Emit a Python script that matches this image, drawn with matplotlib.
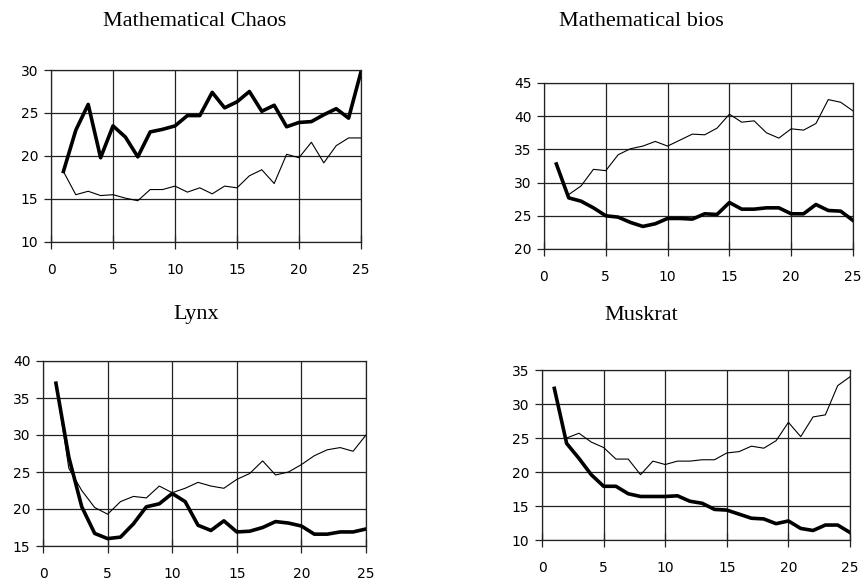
import matplotlib
matplotlib.use("Agg")
import matplotlib.pyplot as plt

x = list(range(1, 26))

# Mathematical Chaos
chaos_thick = [18.2, 23.0, 26.0, 19.8, 23.5, 22.2, 19.9, 22.8, 23.1, 23.5, 24.7, 24.7, 27.4,
               25.6, 26.3, 27.5, 25.2, 25.9, 23.4, 23.9, 24.0, 24.8, 25.5, 24.4, 29.8]
chaos_thin = [18.2, 15.5, 15.9, 15.4, 15.5, 15.1, 14.8, 16.1, 16.1, 16.5, 15.8, 16.3, 15.6,
              16.5, 16.3, 17.7, 18.4, 16.8, 20.2, 19.8, 21.6, 19.2, 21.2, 22.1, 22.1]

# Mathematical bios (thin series starts at x=2)
bios_thick = [32.8, 27.7, 27.2, 26.2, 25.0, 24.8, 24.0, 23.4, 23.8, 24.6, 24.6, 24.5, 25.3,
              25.2, 27.0, 26.0, 26.0, 26.2, 26.2, 25.3, 25.3, 26.7, 25.8, 25.7, 24.3]
bios_thin = [28.2, 29.5, 32.0, 31.8, 34.2, 35.1, 35.5, 36.2, 35.5, 36.4, 37.3, 37.2,
             38.2, 40.3, 39.1, 39.3, 37.5, 36.7, 38.1, 37.9, 38.9, 42.5, 42.1, 40.8]

# Lynx
lynx_thick = [37.0, 27.0, 20.3, 16.7, 16.0, 16.2, 18.0, 20.3, 20.7, 22.1, 21.0, 17.8, 17.1,
              18.4, 16.9, 17.0, 17.5, 18.3, 18.1, 17.7, 16.6, 16.6, 16.9, 16.9, 17.3]
lynx_thin = [37.0, 25.5, 22.5, 20.2, 19.3, 21.0, 21.7, 21.5, 23.1, 22.2, 22.8, 23.6, 23.1,
             22.8, 24.0, 24.8, 26.5, 24.6, 25.0, 26.0, 27.2, 28.0, 28.3, 27.8, 30.0]

# Muskrat (thin series starts at x=2)
musk_thick = [32.3, 24.2, 22.0, 19.6, 17.9, 17.9, 16.8, 16.4, 16.4, 16.4, 16.5, 15.7, 15.4,
              14.5, 14.4, 13.8, 13.2, 13.1, 12.4, 12.8, 11.7, 11.4, 12.2, 12.2, 11.1]
musk_thin = [25.0, 25.7, 24.4, 23.6, 21.9, 21.9, 19.6, 21.6, 21.1, 21.6, 21.6, 21.8,
             21.8, 22.8, 23.0, 23.8, 23.5, 24.6, 27.3, 25.2, 28.1, 28.4, 32.7, 34.0]

W, H = 863, 586
fig = plt.figure(figsize=(W / 100, H / 100), dpi=100)

tick_font = ['Liberation Sans Narrow', 'DejaVu Sans']


def make_panel(rect_px, thick, thin, thin_x, ylim, title, title_xy):
    l, t, r, b = rect_px
    ax = fig.add_axes([l / W, 1 - b / H, (r - l) / W, (b - t) / H])
    ax.plot(thin_x, thin, color='black', lw=0.8)
    ax.plot(x, thick, color='black', lw=2.6)
    ax.set_xlim(0, 25)
    ax.set_ylim(*ylim)
    ax.set_xticks(range(0, 26, 5))
    ax.set_yticks(range(ylim[0], ylim[1] + 1, 5))
    ax.grid(True, color='#222222', lw=0.9)
    for s in ax.spines.values():
        s.set_color('#222222')
        s.set_linewidth(0.9)
    ax.tick_params(axis='x', direction='inout', length=10, width=0.9, pad=10, colors='#222222')
    ax.tick_params(axis='y', direction='out', length=5, width=0.9, pad=4, colors='#222222')
    for lab in ax.get_xticklabels() + ax.get_yticklabels():
        lab.set_family(tick_font)
        lab.set_fontsize(10)
        lab.set_color('black')
    fig.text(title_xy[0] / W, 1 - title_xy[1] / H, title, ha='center', va='center',
             fontsize=16, family='Liberation Serif')
    return ax


make_panel((51, 70, 361, 242), chaos_thick, chaos_thin, x, (10, 30), 'Mathematical Chaos', (195, 22))
make_panel((544, 83, 853, 249), bios_thick, bios_thin, x[1:], (20, 45), 'Mathematical bios', (641, 22))
make_panel((43, 361, 366, 546), lynx_thick, lynx_thin, x, (15, 40), 'Lynx', (196, 315))
make_panel((542, 370, 850, 540), musk_thick, musk_thin, x[1:], (10, 35), 'Muskrat', (641, 315))

fig.savefig('out.png', dpi=100)
